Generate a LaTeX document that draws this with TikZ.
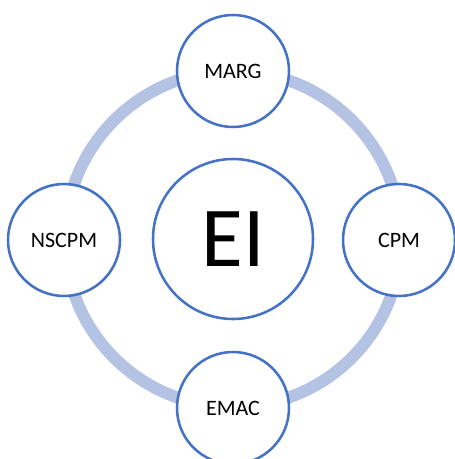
\documentclass[tikz,border=0pt]{standalone}
\usepackage{fontspec}
\setmainfont{Carlito}
\definecolor{ringblue}{HTML}{B4C2E3}
\definecolor{edgeblue}{HTML}{4472C4}

\begin{document}
\begin{tikzpicture}[x=0.75pt, y=-0.75pt,
    outer/.style = {circle, draw=edgeblue, line width=1.9pt, fill=white,
                    minimum size=84pt, inner sep=0pt, font=\fontsize{16.5}{18}\selectfont},
    inner/.style = {circle, draw=edgeblue, line width=1.9pt, fill=white,
                    minimum size=120pt, inner sep=0pt, font=\fontsize{64}{70}\selectfont}]
            \useasboundingbox (0,0) rectangle (454,459);
            % ring behind the circles
            \draw[ringblue, line width=9pt] (233,239) circle (168);
            \node[inner] (ei) at (233,239) {EI};
            \node[outer] (marg) at (233,71) {MARG};
            \node[outer] (cpm) at (399,240) {CPM};
            \node[outer] (emac) at (233,408) {EMAC};
            \node[outer] (nscpm) at (64,240) {NSCPM};
\end{tikzpicture}
\end{document}
